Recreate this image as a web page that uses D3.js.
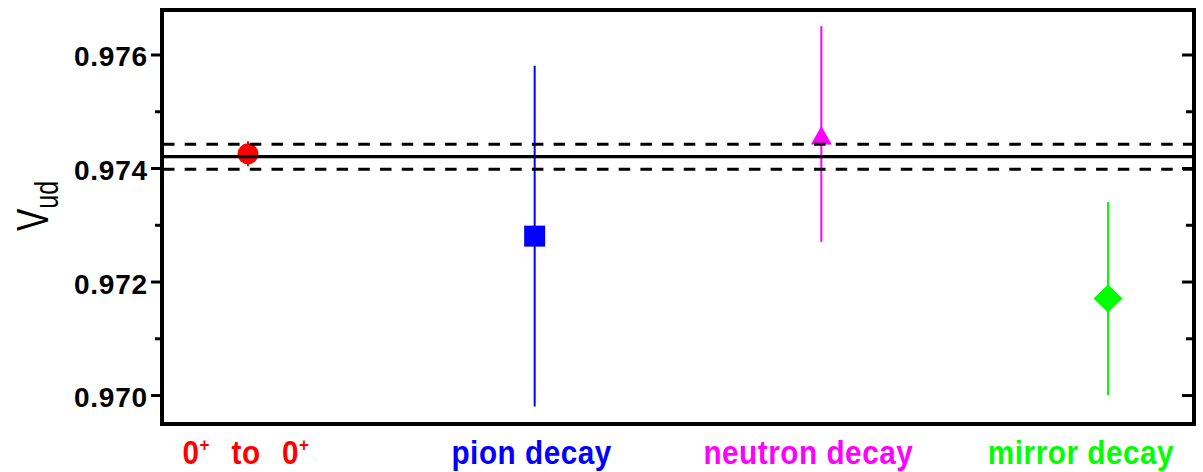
<!DOCTYPE html>
<html>
<head>
<meta charset="utf-8">
<script src="https://cdn.jsdelivr.net/npm/d3@7"></script>
<style>
  html, body { margin: 0; padding: 0; background: #fff; }
  svg { display: block; }
</style>
</head>
<body>
<svg id="chart" width="1203" height="472"></svg>
<script>
// ---- data ----
const categories = ["0+ to 0+", "pion decay", "neutron decay", "mirror decay"];
const values     = [0.97425, 0.9728, 0.9746, 0.9717];
const errors     = [0.00022, 0.0030, 0.0019, 0.0017];
const colors     = ["#ff0000", "#0000ff", "#ff00ff", "#00ff00"];
const shapes     = ["circle", "square", "triangle", "diamond"];
const average    = 0.97420;
const averageErr = 0.00022;
const majorTicks = [0.970, 0.972, 0.974, 0.976];
const minorTicks = [0.971, 0.973, 0.975];
const yDomain    = [0.96949, 0.976784];
const labelShift = [-2, -3, -13, -27];

// ---- layout ----
const L = 162, R = 1194, T = 10, B = 424;
const svg = d3.select("#chart");
const x = d3.scalePoint().domain(categories).range([L, R]).padding(0.3);
const y = d3.scaleLinear().domain(yDomain).range([B, T]);

// axes (left: outward ticks with labels)
const gL = svg.append("g").attr("transform", `translate(${L},0)`)
  .call(d3.axisLeft(y).tickValues(majorTicks).tickSize(11).tickPadding(6).tickFormat(d3.format(".3f")));
const gLm = svg.append("g").attr("transform", `translate(${L},0)`)
  .call(d3.axisLeft(y).tickValues(minorTicks).tickSize(7).tickFormat(""));
// right: inward ticks, no labels
const gR = svg.append("g").attr("transform", `translate(${R},0)`)
  .call(d3.axisLeft(y).tickValues(majorTicks).tickSize(12).tickFormat(""));
const gRm = svg.append("g").attr("transform", `translate(${R},0)`)
  .call(d3.axisLeft(y).tickValues(minorTicks).tickSize(8).tickFormat(""));
[gL, gLm, gR, gRm].forEach(g => {
  g.select(".domain").remove();
  g.selectAll(".tick line").attr("stroke", "#000").attr("stroke-width", 3);
});
gL.selectAll(".tick text")
  .attr("font-family", "'Liberation Sans', Arial, sans-serif")
  .attr("font-size", 28).attr("font-weight", "bold")
  .attr("letter-spacing", "0.8px")
  .attr("fill", "#000").attr("dy", "0.41em").attr("x", -14);

// markers
const pts = categories.map((c, i) => ({c, v: values[i], e: errors[i], col: colors[i], s: shapes[i]}));
const gp = svg.append("g");
gp.selectAll("line.err").data(pts).join("line")
  .attr("class", "err")
  .attr("x1", d => x(d.c)).attr("x2", d => x(d.c))
  .attr("y1", d => y(d.v + d.e)).attr("y2", d => y(d.v - d.e))
  .attr("stroke", d => d.col).attr("stroke-width", 2);

gp.selectAll("path.mk").data(pts).join("path")
  .attr("class", "mk")
  .attr("fill", d => d.col)
  .attr("d", d => {
    const cx = x(d.c), cy = y(d.v);
    if (d.s === "circle") {
      const r = 10.5;
      return `M${cx - r},${cy} a${r},${r} 0 1,0 ${2*r},0 a${r},${r} 0 1,0 ${-2*r},0Z`;
    }
    if (d.s === "square") {
      const h = 10.5;
      return `M${cx - h},${cy - h}h${2*h}v${2*h}h${-2*h}Z`;
    }
    if (d.s === "triangle") {
      return `M${cx},${cy - 8}L${cx + 10.5},${cy + 10.5}L${cx - 10.5},${cy + 10.5}Z`;
    }
    return `M${cx},${cy - 14}L${cx + 14.5},${cy}L${cx},${cy + 14}L${cx - 14.5},${cy}Z`;
  });

// average lines (drawn over markers)
svg.append("line")
  .attr("x1", L).attr("x2", R).attr("y1", y(average)).attr("y2", y(average))
  .attr("stroke", "#000").attr("stroke-width", 3.4);
[average + averageErr, average - averageErr].forEach(v => {
  svg.append("line")
    .attr("x1", L + 1).attr("x2", R).attr("y1", y(v)).attr("y2", y(v))
    .attr("stroke", "#000").attr("stroke-width", 3)
    .attr("stroke-dasharray", "11.5 10.2");
});

// frame
svg.append("rect")
  .attr("x", L).attr("y", T).attr("width", R - L).attr("height", B - T)
  .attr("fill", "none").attr("stroke", "#000").attr("stroke-width", 4);

// category labels
const labelFont = "'Liberation Sans', Arial, sans-serif";
pts.forEach((d, i) => {
  const t = svg.append("text")
    .attr("transform", `translate(${x(d.c) + labelShift[i]},464) scale(0.9,1)`)
    .attr("text-anchor", "middle")
    .attr("font-family", labelFont).attr("font-size", 33).attr("font-weight", "bold")
    .attr("letter-spacing", "0.6px")
    .attr("fill", d.col);
  if (d.c === "0+ to 0+") {
    t.attr("word-spacing", "14px");
    t.append("tspan").text("0");
    t.append("tspan").attr("font-size", 19).attr("dy", -13).text("+");
    t.append("tspan").attr("dy", 13).text(" to 0");
    t.append("tspan").attr("font-size", 19).attr("dy", -13).text("+");
  } else {
    t.text(d.c);
  }
});

// y-axis title V_ud
const yt = svg.append("text")
  .attr("transform", "translate(48,206) rotate(-90) scale(0.76,1)")
  .attr("text-anchor", "middle")
  .attr("font-family", labelFont).attr("fill", "#000");
yt.append("tspan").attr("font-size", 44).text("V");
yt.append("tspan").attr("font-size", 33).attr("dy", 10).text("ud");
</script>
</body>
</html>
